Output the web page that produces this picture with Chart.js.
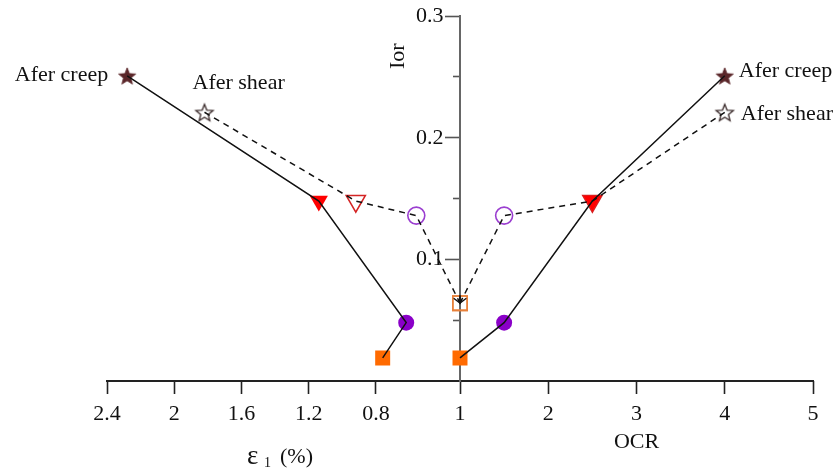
<!DOCTYPE html>
<html>
<head>
<meta charset="utf-8">
<script src="https://cdn.jsdelivr.net/npm/chart.js@4.4.0/dist/chart.umd.min.js"></script>
<style>
  body { margin: 0; background: #fff; }
</style>
</head>
<body>
<canvas id="chart" width="839" height="469"></canvas>
<script>
// tick labels
const strainTicks = [2.4, 2, 1.6, 1.2, 0.8];
const ocrTicks = [1, 2, 3, 4, 5];
const iorTicks = [0.1, 0.2, 0.3];
const iorMinorTicks = [0.05, 0.15, 0.25];

// left half (strain), points in order: star, triangle, circle, square
const strainCreep = [2.28, 1.14, 0.62, 0.76];
const iorCreepStrain = [0.251, 0.148, 0.048, 0.019];
const strainShear = [1.82, 0.92, 0.56, 0.30];
const iorShearStrain = [0.221, 0.148, 0.136, 0.064];

// right half (OCR)
const ocrCreep = [4, 2.5, 1.5, 1];
const iorCreepOcr = [0.251, 0.148, 0.048, 0.019];
const ocrShear = [4, 2.5, 1.5, 1];
const iorShearOcr = [0.221, 0.148, 0.136, 0.064];

const labelCreep = 'Afer creep';
const labelShear = 'Afer shear';

const serif = '"Liberation Serif", "Times New Roman", serif';
const ink = '#111';

function starImage(fill, stroke) {
  const c = document.createElement('canvas');
  c.width = 22; c.height = 22;
  const g = c.getContext('2d');
  g.beginPath();
  for (let i = 0; i < 10; i++) {
    const r = i % 2 ? 3.9 : 9;
    const a = -Math.PI / 2 + i * Math.PI / 5;
    g.lineTo(11 + r * Math.cos(a), 12 + r * Math.sin(a));
  }
  g.closePath();
  if (fill) { g.fillStyle = fill; g.fill(); }
  g.lineWidth = fill ? 0.8 : 1.3;
  g.strokeStyle = stroke;
  g.stroke();
  return c;
}

const filledStar = starImage('#5a2629', '#5a2629');
const openStar = starImage(null, '#3a2a2a');

function pts(xs, ys) {
  return xs.map((x, i) => ({ x: x, y: ys[i] }));
}

function markerSet(xs, ys, axis, filled) {
  return {
    data: pts(xs, ys),
    xAxisID: axis,
    showLine: false,
    order: 2,
    pointStyle: [filled ? filledStar : openStar, 'triangle', 'circle', 'rect'],
    pointRotation: [0, 180, 0, 0],
    pointRadius: filled ? [10, 10.5, 8, 10.6] : [10, 11, 8.5, 10.2],
    pointBackgroundColor: filled ? ['#5a2629', '#ff0000', '#8a00c8', '#ff6a00'] : 'rgba(0,0,0,0)',
    pointBorderColor: filled ? ['#5a2629', '#ff0000', '#8a00c8', '#ff6a00'] : ['#3a2a2a', '#d42424', '#9b3fd0', '#e8803a'],
    pointBorderWidth: filled ? 0 : 1.6
  };
}

function lineSet(xs, ys, axis, dashed) {
  return {
    data: pts(xs, ys),
    xAxisID: axis,
    order: 1,
    pointRadius: 0,
    borderColor: ink,
    borderWidth: 1.5,
    borderDash: dashed ? [6, 5] : [],
    arrow: dashed,
    fill: false
  };
}

// small arrow heads where the dashed lines reach the last point
const arrows = {
  id: 'arrows',
  afterDatasetsDraw(chart) {
    const ctx = chart.ctx;
    ctx.save();
    ctx.strokeStyle = ink;
    ctx.lineWidth = 1.4;
    chart.data.datasets.forEach((ds, i) => {
      if (!ds.arrow) return;
      const pts = chart.getDatasetMeta(i).data;
      const a = pts[pts.length - 2], b = pts[pts.length - 1];
      const ang = Math.atan2(b.y - a.y, b.x - a.x);
      ctx.beginPath();
      ctx.moveTo(b.x - 8 * Math.cos(ang - 0.45), b.y - 8 * Math.sin(ang - 0.45));
      ctx.lineTo(b.x, b.y);
      ctx.lineTo(b.x - 8 * Math.cos(ang + 0.45), b.y - 8 * Math.sin(ang + 0.45));
      ctx.stroke();
    });
    ctx.restore();
  }
};

// series labels and axis titles
const notes = {
  id: 'notes',
  afterDraw(chart) {
    const { ctx, scales, chartArea } = chart;
    const sx = scales.xe, so = scales.x, sy = scales.y;
    ctx.save();
    ctx.fillStyle = ink;
    ctx.font = '22px ' + serif;
    ctx.textBaseline = 'middle';

    ctx.textAlign = 'right';
    ctx.fillText(labelCreep, sx.getPixelForValue(strainCreep[0]) - 19, sy.getPixelForValue(iorCreepStrain[0]) - 1);
    ctx.textAlign = 'left';
    ctx.fillText(labelShear, sx.getPixelForValue(strainShear[0]) - 12, sy.getPixelForValue(iorShearStrain[0]) - 29);
    ctx.fillText(labelCreep, so.getPixelForValue(ocrCreep[0]) + 14, sy.getPixelForValue(iorCreepOcr[0]) - 5);
    ctx.fillText(labelShear, so.getPixelForValue(ocrShear[0]) + 16, sy.getPixelForValue(iorShearOcr[0]) + 2);

    // OCR title under tick 3
    ctx.textAlign = 'center';
    ctx.fillText('OCR', so.getPixelForValue(3), chartArea.bottom + 61);

    // strain title with subscript
    ctx.textAlign = 'left';
    const x0 = chartArea.left + 140, y0 = chartArea.bottom + 76;
    ctx.font = '27px ' + serif;
    ctx.fillText('ε', x0, y0);
    ctx.font = '14px ' + serif;
    ctx.fillText('1', x0 + 17, y0 + 6);
    ctx.font = '22px ' + serif;
    ctx.fillText('(%)', x0 + 33, y0);

    // vertical title
    ctx.translate(so.getPixelForValue(1) - 62, chartArea.top + 40);
    ctx.rotate(-Math.PI / 2);
    ctx.textAlign = 'center';
    ctx.fillText('Ior', 0, 0);
    ctx.restore();
  }
};

const tickFont = { family: serif, size: 22 };

new Chart(document.getElementById('chart'), {
  type: 'line',
  data: {
    datasets: [
      markerSet(strainCreep, iorCreepStrain, 'xe', true),
      markerSet(strainShear, iorShearStrain, 'xe', false),
      markerSet(ocrCreep, iorCreepOcr, 'x', true),
      markerSet(ocrShear, iorShearOcr, 'x', false),
      lineSet(strainCreep, iorCreepStrain, 'xe', false),
      lineSet(strainShear, iorShearStrain, 'xe', true),
      lineSet(ocrCreep, iorCreepOcr, 'x', false),
      lineSet(ocrShear, iorShearOcr, 'x', true)
    ]
  },
  options: {
    responsive: false,
    animation: false,
    events: [],
    layout: { padding: { left: 107, right: 26, top: 14, bottom: 0 } },
    plugins: { legend: { display: false }, tooltip: { enabled: false } },
    scales: {
      xe: {
        type: 'linear',
        position: 'bottom',
        reverse: true,
        min: -1.8,
        max: 2.4,
        afterBuildTicks: s => { s.ticks = strainTicks.map(v => ({ value: v })); },
        afterFit: s => { s.height = 88; },
        grid: { drawOnChartArea: false, tickLength: 13, tickColor: '#222', tickWidth: 1.6 },
        border: { color: '#222', width: 2 },
        ticks: { font: tickFont, color: ink, padding: 7, autoSkip: false, maxRotation: 0, callback: v => String(v) }
      },
      x: {
        type: 'linear',
        position: { y: 0 },
        min: -3,
        max: 5,
        afterBuildTicks: s => { s.ticks = ocrTicks.map(v => ({ value: v })); },
        grid: { drawOnChartArea: false, tickLength: 13, tickColor: '#222', tickWidth: 1.6 },
        border: { display: false },
        ticks: { font: tickFont, color: ink, padding: 7, autoSkip: false, maxRotation: 0, callback: v => String(v) }
      },
      y: {
        type: 'linear',
        position: { x: 1 },
        min: 0,
        max: 0.3,
        afterBuildTicks: s => { s.ticks = iorTicks.map(v => ({ value: v })); },
        grid: { drawOnChartArea: false, tickLength: 14, tickColor: '#555', tickWidth: 1.6 },
        border: { color: '#666', width: 2 },
        // labels of a centred axis sit on the axis line, so pad them with spaces
        ticks: { font: tickFont, color: ink, callback: v => String(v) + '   ' }
      },
      yMinor: {
        type: 'linear',
        position: { x: 1 },
        min: 0,
        max: 0.3,
        afterBuildTicks: s => { s.ticks = iorMinorTicks.map(v => ({ value: v })); },
        grid: { drawOnChartArea: false, tickLength: 7, tickColor: '#555', tickWidth: 1.6 },
        border: { display: false },
        ticks: { callback: () => '' }
      }
    }
  },
  plugins: [arrows, notes]
});
</script>
</body>
</html>
